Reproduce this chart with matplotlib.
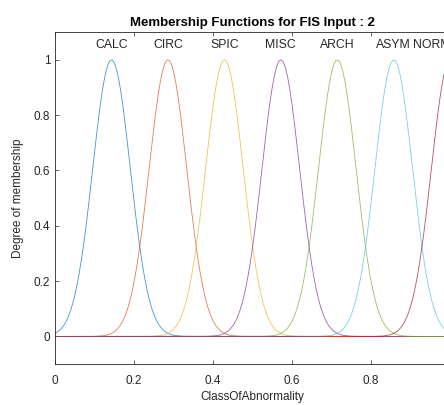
import numpy as np
import matplotlib.pyplot as plt

plt.rcParams['font.family'] = ['Liberation Sans', 'DejaVu Sans']

# membership functions (gaussmf)
mf_names = ['CALC', 'CIRC', 'SPIC', 'MISC', 'ARCH', 'ASYM', 'NORM']
mf_centers = [0.1429, 0.2857, 0.4286, 0.5714, 0.7143, 0.8571, 1.0]
mf_sigma = [0.0476, 0.0476, 0.0476, 0.0476, 0.0476, 0.0476, 0.0476]
mf_colors = ['#0072bd', '#d95319', '#edb120', '#7e2f8e', '#77ac30', '#4dbeee', '#a2142f']

x = np.linspace(0, 1, 181)

fig = plt.figure(figsize=(4.44, 4.05), dpi=100)
ax = fig.add_axes([0.124, 0.101, 0.89, 0.82])

gray = '#262626'
for name, c, s, col in zip(mf_names, mf_centers, mf_sigma, mf_colors):
    y = np.exp(-(x - c) ** 2 / (2 * s ** 2))
    ax.plot(x, y, color=col, lw=0.6, alpha=0.75)
    # like plotmf: keep the label inside the x range
    ha = 'right' if c >= 1.0 else 'center'
    ax.text(c, 1.03, name, ha=ha, va='bottom', fontsize=8.8, color=gray)

ax.set_xlim(0, 1)
ax.set_ylim(-0.1, 1.1)
ax.set_xticks([0, 0.2, 0.4, 0.6, 0.8, 1])
ax.set_xticklabels(['0', '0.2', '0.4', '0.6', '0.8', '1'])
ax.set_yticks([0, 0.2, 0.4, 0.6, 0.8, 1])
ax.set_yticklabels(['0', '0.2', '0.4', '0.6', '0.8', '1'])
ax.tick_params(direction='in', length=3, width=0.5, labelsize=8.5,
               colors=gray, top=True, right=True)
ax.tick_params(axis='x', pad=8)
for sp in ax.spines.values():
    sp.set_linewidth(0.6)
    sp.set_color(gray)

ax.set_title('Membership Functions for FIS Input : 2', fontsize=9.5,
             fontweight='bold', pad=4)
ax.set_xlabel('ClassOfAbnormality', fontsize=8.5, color=gray, labelpad=3)
ax.set_ylabel('Degree of membership', fontsize=8.5, color=gray, labelpad=7)

fig.savefig('out.png', dpi=100)
